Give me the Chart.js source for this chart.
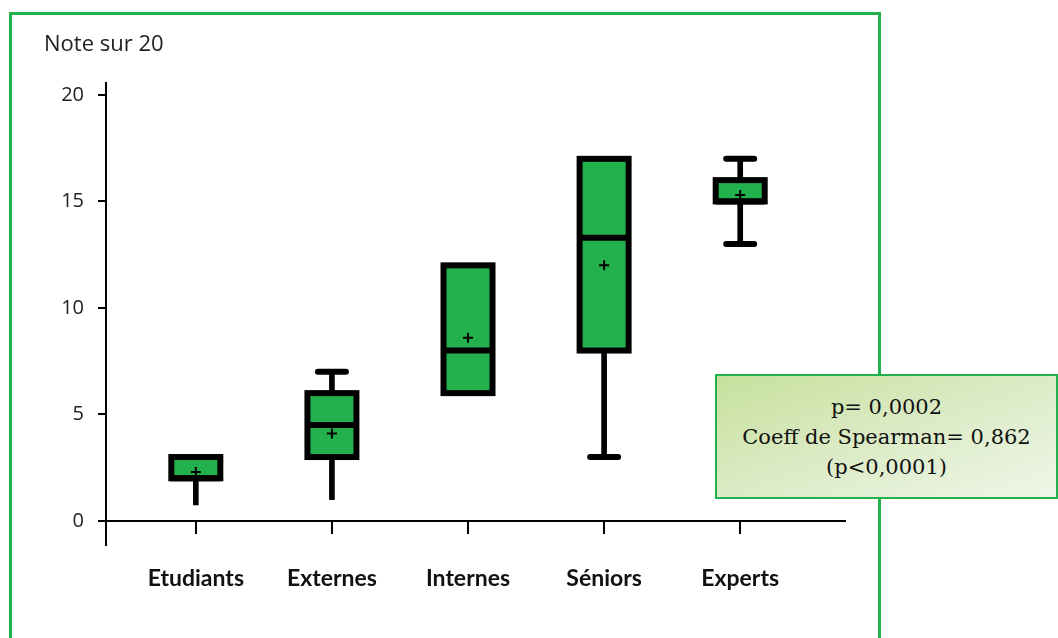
<!DOCTYPE html>
<html>
<head>
<meta charset="utf-8">
<script src="https://cdn.jsdelivr.net/npm/chart.js@4.4.1/dist/chart.umd.min.js"></script>
<style>
    html, body { margin: 0; padding: 0; background: #fff; overflow: hidden; }
    #page { position: relative; width: 1058px; height: 638px; }
    #frame {
        position: absolute; left: 9px; top: 12px; width: 866px; height: 700px;
        border: 3px solid #22b14c;
    }
    #chartBox { position: absolute; left: 0; top: 0; width: 1058px; height: 638px; }
    #yTitle {
        position: absolute; left: 44px; top: 27px;
        font-family: "Open Sans", sans-serif; font-size: 22px; color: #222;
    }
    #stats {
        position: absolute; left: 715px; top: 374px; width: 339px; height: 121px;
        border: 2px solid #22b14c;
        background: linear-gradient(160deg, #c6e09c 0%, #dcebc6 50%, #eef6e8 100%);
        font-family: "DejaVu Serif", serif; font-size: 21px; color: #111;
        text-align: center; line-height: 30px;
        display: flex; flex-direction: column; justify-content: center;
    }
</style>
</head>
<body>
<div id="page">
    <div id="frame"></div>
    <div id="chartBox"><canvas id="myChartBox"></canvas></div>
    <div id="yTitle">Note sur 20</div>
    <div id="stats">
        <div>p= 0,0002</div>
        <div>Coeff de Spearman= 0,862</div>
        <div>(p&lt;0,0001)</div>
    </div>
</div>

<script>
// Werte
const categories = ['Etudiants', 'Externes', 'Internes', 'Séniors', 'Experts'];
const minValues = [0.75, 1, 6, 3, 13];
const q1Values = [2, 3, 6, 8, 15];
const medianValues = [2, 4.5, 8, 13.3, 15];
const q3Values = [3, 6, 12, 17, 16];
const maxValues = [3, 7, 12, 17, 17];
const meanValues = [2.3, 4.1, 8.6, 12, 15.3];
const yTickValues = [0, 5, 10, 15, 20];

let boxChart;

function pos(i) { return i + 1; }

// schwarzer Rahmen um die Boxen, mittig auf den Quartilen + runde Enden der Kappen
const boxOutline = {
    id: 'boxOutline',
    beforeDatasetDraw(chart, args) {
        if (chart.data.datasets[args.index].label === 'Extrémités') { chart.ctx.lineCap = 'round'; }
    },
    afterDatasetDraw(chart, args) {
        const c = chart.ctx;
        c.lineCap = 'butt';
        if (chart.data.datasets[args.index].label !== 'Boîte') { return; }
        c.save();
        c.strokeStyle = '#000';
        c.lineWidth = 6;
        c.lineJoin = 'miter';
        args.meta.data.forEach(bar => {
            const top = Math.min(bar.y, bar.base);
            const h = Math.abs(bar.base - bar.y);
            c.strokeRect(bar.x - bar.width / 2, top, bar.width, h);
        });
        c.restore();
    }
};

function showBoxChart() {

    const ctx = document.getElementById('myChartBox');

    const boxes = categories.map((c, i) => ({ x: pos(i), y: [q1Values[i], q3Values[i]] }));

    const lowerWhiskers = [];
    const upperWhiskers = [];
    const caps = [];
    categories.forEach((c, i) => {
        if (minValues[i] < q1Values[i]) {
            lowerWhiskers.push({ x: pos(i), y: [minValues[i], q1Values[i]] });
            if (i > 1) { caps.push({ x: pos(i), y: minValues[i] }); } // keine Kappe bei den ersten zwei
        }
        if (maxValues[i] > q3Values[i]) {
            upperWhiskers.push({ x: pos(i), y: [q3Values[i], maxValues[i]] });
            caps.push({ x: pos(i), y: maxValues[i] });
        }
    });

    const medians = categories.map((c, i) => ({ x: pos(i), y: medianValues[i] }));
    const means = categories.map((c, i) => ({ x: pos(i), y: meanValues[i] }));

    const data = {
        datasets: [
            {
                type: 'scatter', label: 'Moyenne', data: means, order: 0,
                pointStyle: 'cross', pointRadius: 5, borderColor: '#000', borderWidth: 2
            },
            {
                type: 'scatter', label: 'Médiane', data: medians, order: 1,
                pointStyle: 'line', pointRadius: 24.5, borderColor: '#000', borderWidth: 6
            },
            {
                type: 'bar', label: 'Boîte', data: boxes, order: 2, grouped: false,
                barThickness: 49, backgroundColor: '#22b14c', borderWidth: 0, inflateAmount: 0
            },
            {
                type: 'scatter', label: 'Extrémités', data: caps, order: 3,
                pointStyle: 'line', pointRadius: 14, borderColor: '#000', borderWidth: 6
            },
            {
                type: 'bar', label: 'Min', data: lowerWhiskers, order: 4, grouped: false,
                barThickness: 5, backgroundColor: '#000', borderWidth: 0
            },
            {
                type: 'bar', label: 'Max', data: upperWhiskers, order: 4, grouped: false,
                barThickness: 5, backgroundColor: '#000', borderWidth: 0
            }
        ]
    };

    const options = {
        responsive: true,
        maintainAspectRatio: false,
        animation: false,
        layout: { padding: { left: 0, right: 213, top: 83, bottom: 93 } },
        plugins: {
            legend: { display: false },
            tooltip: { enabled: false }
        },
        scales: {
            x: {
                type: 'linear',
                position: { y: 0 },
                offset: false,
                min: 0.34,
                max: 5.77,
                afterBuildTicks: (scale) => { scale.ticks = categories.map((c, i) => ({ value: pos(i) })); },
                border: { color: '#000', width: 2 },
                grid: { offset: false, drawOnChartArea: false, drawTicks: true, tickLength: 12, color: '#000', lineWidth: 2 },
                ticks: {
                    padding: 32,
                    color: '#111',
                    font: { family: 'Lato', size: 23, weight: 'bold' },
                    callback: (v) => categories[Math.round(v) - 1]
                }
            },
            y: {
                type: 'linear',
                min: -1.13,
                max: 20.56,
                afterBuildTicks: (scale) => { scale.ticks = yTickValues.map(v => ({ value: v })); },
                afterFit: (scale) => { scale.width = 106; },
                border: { color: '#000', width: 2 },
                grid: { drawOnChartArea: false, drawTicks: true, tickLength: 8, color: '#000', lineWidth: 2 },
                ticks: {
                    padding: 14,
                    color: '#222',
                    font: { family: 'Open Sans', size: 20 }
                }
            }
        }
    };

    if (boxChart) { boxChart.destroy(); }

    boxChart = new Chart(ctx, {
        type: 'bar',
        data: data,
        options: options,
        plugins: [boxOutline]
    });

}

showBoxChart();
</script>
</body>
</html>
